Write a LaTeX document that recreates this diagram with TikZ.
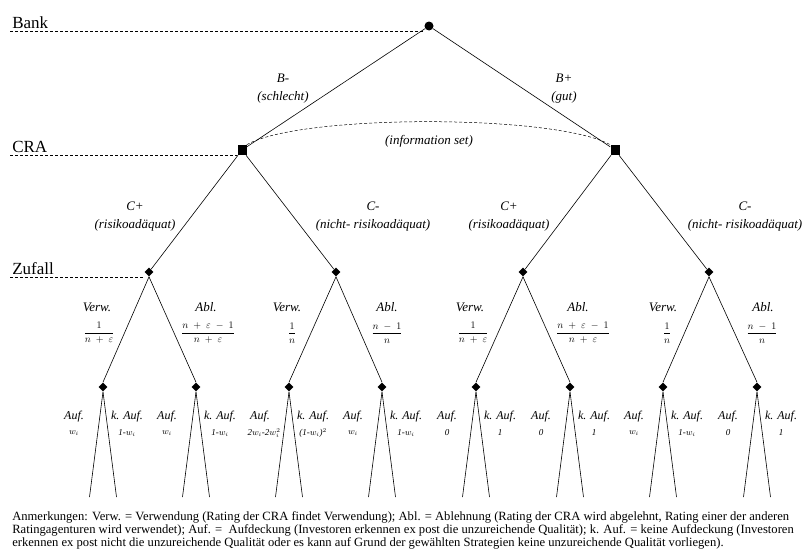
\documentclass[tikz,border=0pt]{standalone}
\usepackage{fontspec}
\setmainfont{Liberation Serif}
\usetikzlibrary{shapes.geometric}

\begin{document}
\begin{tikzpicture}[x=1pt, y=-1pt, line width=0.6pt,
    bank/.style={circle, fill, inner sep=0pt, minimum size=9pt},
    cra/.style={rectangle, fill, inner sep=0pt, minimum width=9pt, minimum height=10pt},
    chance/.style={diamond, fill, inner sep=0pt, minimum size=9pt},
    level/.style={anchor=base west, inner sep=0pt, font=\fontsize{17}{20}\selectfont},
    levelline/.style={dashed, dash pattern=on 3pt off 2pt, line width=0.5pt},
    lbl/.style={align=center, inner sep=0pt, font=\fontsize{13}{18}\selectfont\itshape},
    frac/.style={inner sep=0pt, font=\fontsize{10}{12}\selectfont},
    leaflbl/.style={inner sep=0pt, font=\fontsize{12}{14}\selectfont\itshape},
    leafval/.style={inner sep=0pt, font=\fontsize{9}{11}\selectfont\itshape},
    note/.style={anchor=north west, align=left, inner sep=0pt, font=\fontsize{12.6}{13}\selectfont}]

    \useasboundingbox (0,0) rectangle (808,554);

    % Players / levels
    \node[level] (tbank)   at (12,28)  {Bank};
    \node[level] (tcra)    at (12,152) {CRA};
    \node[level] (tzufall) at (12,274) {Zufall};

    % Decision nodes
    \node[bank] (bank) at (429,26)  {};
    \node[cra]  (craL) at (242,150) {};
    \node[cra]  (craR) at (615,150) {};
    \foreach \x [count=\i] in {149,336,523,709}
        \node[chance] (z\i) at (\x,272) {};
    \foreach \x [count=\i] in {103,196,289,382,476,570,663,757} {
        \node[chance] (a\i) at (\x,387) {};
        \coordinate (l\i) at (\x-13.5,497);
        \coordinate (r\i) at (\x+13.5,497);
    }

    % Dashed level lines
    \coordinate (sbank)   at (10,31);
    \coordinate (scra)    at (10,155);
    \coordinate (szufall) at (10,277);
    \draw[levelline] (sbank)   -- (sbank -| bank.west);
    \draw[levelline] (scra)    -- (scra -| craL.west);
    \draw[levelline] (szufall) -- (szufall -| z1.west);

    % Branches
    \draw (bank) -- (craL);
    \draw (bank) -- (craR);
    \draw (craL) -- (z1);
    \draw (craL) -- (z2);
    \draw (craR) -- (z3);
    \draw (craR) -- (z4);
    \foreach \p/\c in {1/1,1/2,2/3,2/4,3/5,3/6,4/7,4/8}
        \draw (z\p.south) -- (a\c.north);
    \foreach \i in {1,...,8} {
        \draw (a\i.south) -- (l\i);
        \draw (a\i.south) -- (r\i);
    }

    % Information set
    \draw[dashed, dash pattern=on 3pt off 2pt, line width=0.5pt]
        (craL.north east) .. controls (300,114) and (555,114) .. (craR.north west);
    \node[lbl] (tinfo) at (429,141) {(information set)};

    % Bank moves
    \node[lbl] (tbm) at (283,89) {B-\\(schlecht)};
    \node[lbl] (tbp) at (564,89) {B+\\(gut)};

    % CRA moves
    \node[lbl] (tc1) at (135,217) {C+\\(risikoadäquat)};
    \node[lbl] (tc2) at (373,217) {C-\\(nicht- risikoadäquat)};
    \node[lbl] (tc3) at (509,217) {C+\\(risikoadäquat)};
    \node[lbl] (tc4) at (745,217) {C-\\(nicht- risikoadäquat)};

    % Chance moves
    \node[lbl] (tv1) at (97,307)  {Verw.};
    \node[lbl] (tr1) at (206,307) {Abl.};
    \node[lbl] (tv2) at (287,307) {Verw.};
    \node[lbl] (tr2) at (387,307) {Abl.};
    \node[lbl] (tv3) at (470,307) {Verw.};
    \node[lbl] (tr3) at (578,307) {Abl.};
    \node[lbl] (tv4) at (663,307) {Verw.};
    \node[lbl] (tr4) at (763,307) {Abl.};
    \node[frac] (fv1) at (99,333)  {\(\displaystyle\frac{1}{n\;+\;\varepsilon}\)};
    \node[frac] (fr1) at (208,333) {\(\displaystyle\frac{n\;+\;\varepsilon\;-\;1}{n\;+\;\varepsilon}\)};
    \node[frac] (fv2) at (292,333) {\(\displaystyle\frac{1}{n}\)};
    \node[frac] (fr2) at (387,333) {\(\displaystyle\frac{n\;-\;1}{n}\)};
    \node[frac] (fv3) at (473,333) {\(\displaystyle\frac{1}{n\;+\;\varepsilon}\)};
    \node[frac] (fr3) at (583,333) {\(\displaystyle\frac{n\;+\;\varepsilon\;-\;1}{n\;+\;\varepsilon}\)};
    \node[frac] (fv4) at (667,333) {\(\displaystyle\frac{1}{n}\)};
    \node[frac] (fr4) at (762,333) {\(\displaystyle\frac{n\;-\;1}{n}\)};

    % Outcomes
    \foreach \x/\o/\a/\k [count=\i] in {103/29/{\(w_i\)}/{1-\(w_i\)}, 196/29/{\(w_i\)}/{1-\(w_i\)},
            289/25/{2\(w_i\)-2\(w_i^2\)}/{(1-\(w_i\))\(^2\)}, 382/29/{\(w_i\)}/{1-\(w_i\)},
            476/29/{0}/{1}, 570/29/{0}/{1}, 663/29/{\(w_i\)}/{1-\(w_i\)}, 757/29/{0}/{1}} {
        \node[leaflbl] (ta\i) at (\x-29,417) {Auf.};
        \node[leafval] (va\i) at (\x-\o,433) {\a};
        \node[leaflbl] (tk\i) at (\x+24,417) {k. Auf.};
        \node[leafval] (vk\i) at (\x+24,433) {\k};
    }

    % Note
    \node[note] (note) at (12,511) {Anmerkungen: Verw. = Verwendung (Rating der CRA findet Verwendung); Abl. = Ablehnung (Rating der CRA wird abgelehnt, Rating einer der anderen\\
        Ratingagenturen wird verwendet); Auf. = \ Aufdeckung (Investoren erkennen ex post die unzureichende Qualität); k. Auf. = keine Aufdeckung (Investoren\\
        erkennen ex post nicht die unzureichende Qualität oder es kann auf Grund der gewählten Strategien keine unzureichende Qualität vorliegen).};

\end{tikzpicture}
\end{document}
